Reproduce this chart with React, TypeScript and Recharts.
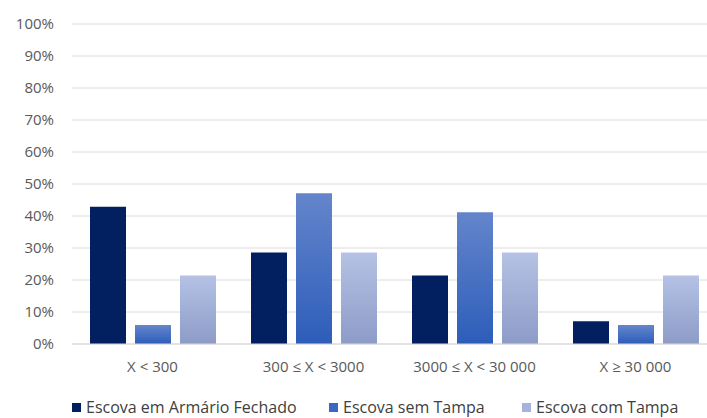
import { BarChart, Bar, XAxis, YAxis, CartesianGrid, Legend } from 'recharts';

const categories = ['X < 300', '300 ≤ X < 3000', '3000 ≤ X < 30 000', 'X ≥ 30 000'];
const armarioFechado = [42.9, 28.6, 21.4, 7.1];
const semTampa = [5.9, 47.1, 41.2, 5.9];
const comTampa = [21.4, 28.6, 28.6, 21.4];
const yTicks = [0, 10, 20, 30, 40, 50, 60, 70, 80, 90, 100];

const seriesNames = ['Escova em Armário Fechado', 'Escova sem Tampa', 'Escova com Tampa'];
const swatches = ['#022060', '#3a67c2', '#a4b2dc'];

const data = categories.map((name, i) => ({
    name,
    fechado: armarioFechado[i],
    sem: semTampa[i],
    com: comTampa[i],
}));

const FONT = '"Open Sans", sans-serif';

const LegendRow = () => {
    const widths = [257, 193, 190];
    return (
        <div
            style={{
                display: 'flex',
                paddingLeft: 72,
                paddingTop: 7,
                fontFamily: FONT,
                fontSize: 16,
                lineHeight: '20px',
                color: '#404040',
            }}
        >
            {seriesNames.map((n, i) => (
                <div key={n} style={{ width: widths[i], display: 'flex', alignItems: 'center' }}>
                    <span style={{ display: 'inline-block', width: 9, height: 9, background: swatches[i], marginRight: 5 }} />
                    <span>{n}</span>
                </div>
            ))}
        </div>
    );
};

const App = () => {
    return (
        <div
            style={{
                position: 'absolute',
                top: 0,
                left: 0,
                width: 707,
                height: 418,
                overflow: 'hidden',
                background: '#fff',
            }}
        >
            <BarChart
                width={716}
                height={418}
                data={data}
                margin={{ top: 24, right: 0, bottom: 0, left: 0 }}
                barSize={36}
                barGap={9}
            >
                <defs>
                    <linearGradient id="gradSem" x1="0" y1="0" x2="0" y2="1">
                        <stop offset="0%" stopColor="#6485cb" />
                        <stop offset="100%" stopColor="#2d5dba" />
                    </linearGradient>
                    <linearGradient id="gradCom" x1="0" y1="0" x2="0" y2="1">
                        <stop offset="0%" stopColor="#b5c2e5" />
                        <stop offset="100%" stopColor="#8d9cc7" />
                    </linearGradient>
                </defs>
                <CartesianGrid vertical={false} stroke="#dcdcdc" />
                <XAxis
                    dataKey="name"
                    axisLine={{ stroke: '#d9d9d9' }}
                    tickLine={false}
                    tickMargin={11}
                    height={46}
                    tick={{ fill: '#595959', fontSize: 15, fontFamily: FONT }}
                />
                <YAxis
                    width={72}
                    domain={[0, 100]}
                    ticks={yTicks}
                    interval={0}
                    axisLine={false}
                    tickLine={false}
                    tickMargin={12}
                    tickFormatter={(v: number) => `${v}%`}
                    tick={{ fill: '#595959', fontSize: 15, fontFamily: FONT }}
                />
                <Legend verticalAlign="bottom" height={28} content={() => <LegendRow />} />
                <Bar dataKey="fechado" name={seriesNames[0]} fill="#022060" isAnimationActive={false} />
                <Bar dataKey="sem" name={seriesNames[1]} fill="url(#gradSem)" isAnimationActive={false} />
                <Bar dataKey="com" name={seriesNames[2]} fill="url(#gradCom)" isAnimationActive={false} />
            </BarChart>
        </div>
    );
};

export default App;
